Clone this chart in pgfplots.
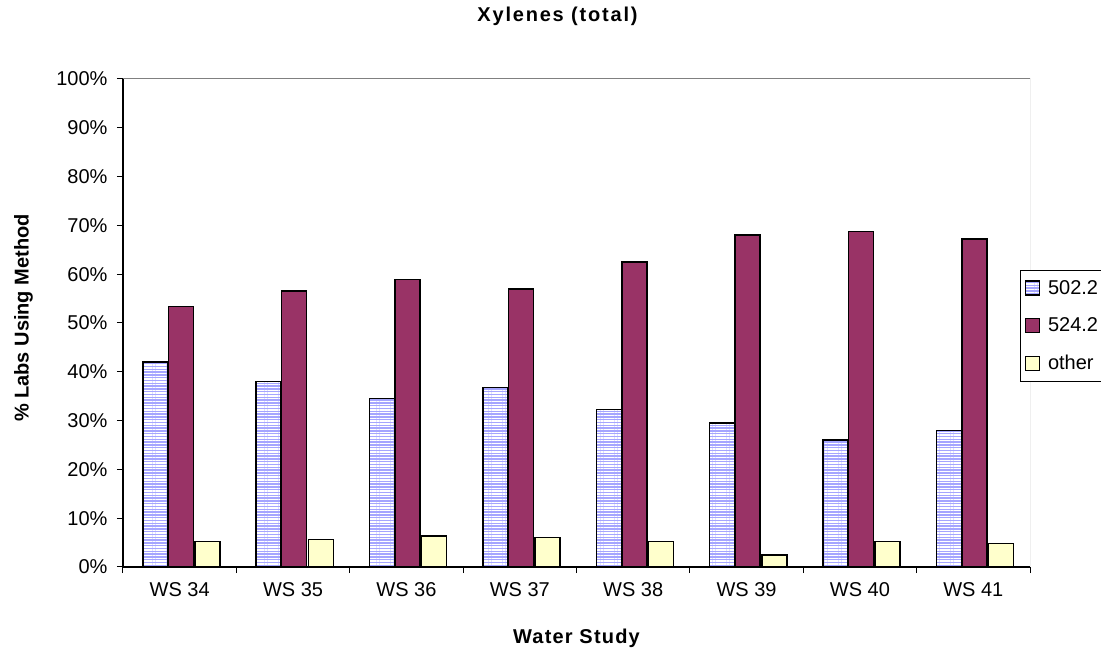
\documentclass[border=0pt]{standalone}
\usepackage{pgfplots}
\usepackage{pgfplotstable}
\pgfplotsset{compat=1.18}
\usepackage{fontspec}
\setmainfont{Liberation Sans}
\newfontfamily\titlefont[LetterSpace=9]{Liberation Sans}
\newfontfamily\labfont[LetterSpace=6]{Liberation Sans}
\usetikzlibrary{patterns.meta}
\definecolor{lav}{RGB}{165,165,255}
\definecolor{maroonc}{RGB}{153,51,102}
\definecolor{ltyel}{RGB}{255,255,204}
\definecolor{framegray}{RGB}{128,128,128}

\pgfplotstableread{
x blue maroon yellow
0 42.0 53.4 5.2
1 38.0 56.6 5.6
2 34.5 58.9 6.4
3 36.8 57.0 6.0
4 32.3 62.5 5.2
5 29.5 68.0 2.5
6 26.0 68.8 5.2
7 28.0 67.2 4.8
}\data

\begin{document}
\begin{tikzpicture}[x=1pt,y=1pt]
\useasboundingbox (0,0) rectangle (1101,648);
\begin{axis}[
  at={(123pt,81pt)}, anchor=south west,
  width=907pt, height=488pt, scale only axis,
  xmin=-0.5, xmax=7.5, ymin=0, ymax=100,
  axis x line*=bottom, axis y line*=left,
  axis line style={black, line width=1.2pt},
  tick align=outside,
  major tick length=6pt, minor tick length=6pt,
  ytick={0,10,...,100},
  yticklabels={0\%,10\%,20\%,30\%,40\%,50\%,60\%,70\%,80\%,90\%,100\%},
  ytick style={black, line width=1pt},
  xtick={0,...,7},
  xticklabels={WS 34,WS 35,WS 36,WS 37,WS 38,WS 39,WS 40,WS 41},
  major x tick style={draw=none},
  minor xtick={-0.5,0.5,...,7.5},
  minor x tick style={black, line width=1pt},
  /pgf/number format/assume math mode=true,
  tick label style={font=\fontsize{20}{24}\selectfont},
  yticklabel style={xshift=-6pt},
  xticklabel style={yshift=-6pt},
  title={\titlefont\bfseries Xylenes (total)},
  title style={at={(axis description cs:0.5,1)}, anchor=center, xshift=-19pt, yshift=57pt, font=\fontsize{20}{24}\selectfont},
  xlabel={\labfont\bfseries Water Study},
  xlabel style={at={(axis description cs:0.5,0)}, anchor=base, yshift=-76pt, font=\fontsize{20}{24}\selectfont},
  ylabel={\bfseries \% Labs Using Method},
  ylabel style={at={(axis description cs:-0.1097,0.5102)}, anchor=center, font=\fontsize{20}{24}\selectfont},
  legend style={at={(axis description cs:0.989,0.6086)}, anchor=north west, draw=black, line width=1pt, fill=white,
    font=\fontsize{20}{24}\selectfont, row sep=18pt, inner xsep=4pt, inner ysep=8pt},
  legend cell align=left,
  legend image code/.code={\draw[#1, line width=1.2pt] (4pt,-7pt) rectangle (18pt,7pt); \path (24pt,0pt);},
]
\addplot[ybar, bar width=0.22, bar shift=-0.215, draw=black, line width=1.5pt, fill=lav,
  postaction={pattern={Lines[angle=0,distance=2.8pt,line width=1.4pt]}, pattern color=white, draw=black, line width=1.5pt}]
  table[x=x,y=blue]{\data};
\addlegendentry{502.2}
\addplot[ybar, bar width=0.22, bar shift=0.01, draw=black, line width=1.5pt, fill=maroonc]
  table[x=x,y=maroon]{\data};
\addlegendentry{524.2}
\addplot[ybar, bar width=0.22, bar shift=0.245, draw=black, line width=1.5pt, fill=ltyel]
  table[x=x,y=yellow]{\data};
\addlegendentry{other}
\draw[framegray, line width=1pt] (rel axis cs:0,1) -- (rel axis cs:1,1) -- (rel axis cs:1,0);
\end{axis}
\end{tikzpicture}
\end{document}
